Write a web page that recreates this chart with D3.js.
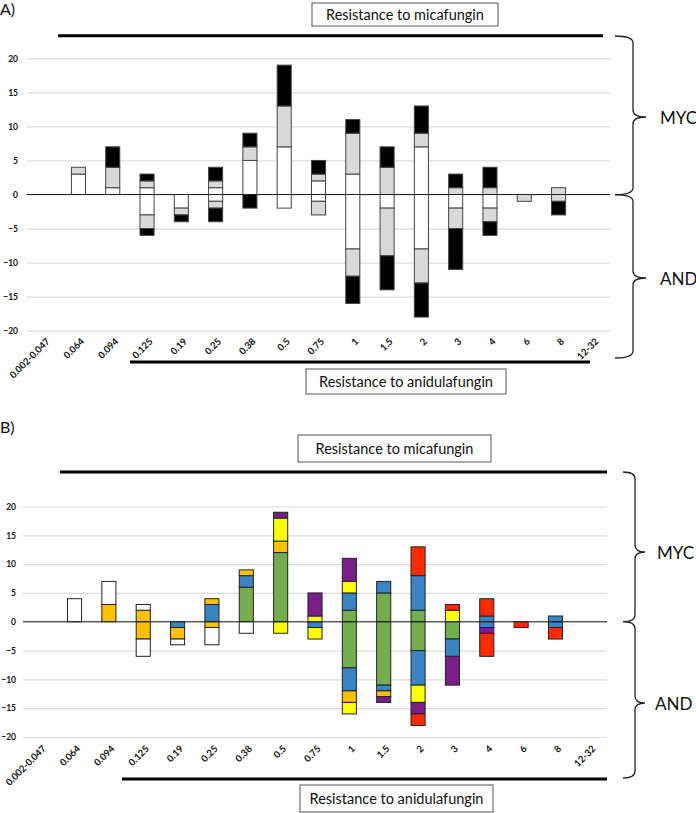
<!DOCTYPE html>
<html>
<head>
<meta charset="utf-8">
<script src="https://cdn.jsdelivr.net/npm/d3@7"></script>
<style>
  body { margin: 0; background: #fff; }
  svg { display: block; font-family: Lato, "Open Sans", sans-serif; }
</style>
</head>
<body>
<svg id="chart" width="696" height="813"></svg>
<script>
const categories = ["0.002-0.047", "0.064", "0.094", "0.125", "0.19", "0.25", "0.38", "0.5", "0.75", "1", "1.5", "2", "3", "4", "6", "8", "12-32"];
const yTicks = [-20, -15, -10, -5, 0, 5, 10, 15, 20];

// panel A: white / grey / black, MYC above zero, AND below
const aKeys = ["white", "grey", "black"];
const aMycWhite = [0, 3, 1, 1, 0, 1, 5, 7, 2, 3, 0, 7, 0, 0, 0, 0, 0];
const aMycGrey  = [0, 1, 3, 1, 0, 1, 2, 6, 1, 6, 4, 2, 1, 1, 0, 1, 0];
const aMycBlack = [0, 0, 3, 1, 0, 2, 2, 6, 2, 2, 3, 4, 2, 3, 0, 0, 0];
const aAndWhite = [0, 0, 0, 3, 2, 1, 0, 2, 1, 8, 2, 8, 2, 2, 0, 0, 0];
const aAndGrey  = [0, 0, 0, 2, 1, 1, 0, 0, 2, 4, 7, 5, 3, 2, 1, 1, 0];
const aAndBlack = [0, 0, 0, 1, 1, 2, 2, 0, 0, 4, 5, 5, 6, 2, 0, 2, 0];

// panel B: coloured groups
const bKeys = ["green", "blue", "orange", "yellow", "purple", "red", "white"];
const bMycGreen  = [0, 0, 0, 0, 0, 0, 6, 12, 0, 2, 5, 2, 0, 0, 0, 0, 0];
const bMycBlue   = [0, 0, 0, 0, 0, 3, 2, 0, 0, 3, 2, 6, 0, 1, 0, 1, 0];
const bMycOrange = [0, 0, 3, 2, 0, 1, 1, 2, 0, 0, 0, 0, 0, 0, 0, 0, 0];
const bMycYellow = [0, 0, 0, 0, 0, 0, 0, 4, 1, 2, 0, 0, 2, 0, 0, 0, 0];
const bMycPurple = [0, 0, 0, 0, 0, 0, 0, 1, 4, 4, 0, 0, 0, 0, 0, 0, 0];
const bMycRed    = [0, 0, 0, 0, 0, 0, 0, 0, 0, 0, 0, 5, 1, 3, 0, 0, 0];
const bMycWhite  = [0, 4, 4, 1, 0, 0, 0, 0, 0, 0, 0, 0, 0, 0, 0, 0, 0];
const bAndGreen  = [0, 0, 0, 0, 0, 0, 0, 0, 0, 8, 11, 5, 3, 0, 0, 0, 0];
const bAndBlue   = [0, 0, 0, 0, 1, 0, 0, 0, 1, 4, 1, 6, 3, 1, 0, 1, 0];
const bAndOrange = [0, 0, 0, 3, 2, 1, 0, 0, 0, 2, 1, 0, 0, 0, 0, 0, 0];
const bAndYellow = [0, 0, 0, 0, 0, 0, 0, 2, 2, 2, 0, 3, 0, 0, 0, 0, 0];
const bAndPurple = [0, 0, 0, 0, 0, 0, 0, 0, 0, 0, 1, 2, 5, 1, 0, 0, 0];
const bAndRed    = [0, 0, 0, 0, 0, 0, 0, 0, 0, 0, 0, 2, 0, 4, 1, 2, 0];
const bAndWhite  = [0, 0, 0, 3, 1, 3, 2, 0, 0, 0, 0, 0, 0, 0, 0, 0, 0];

const colorsA = { white: "#ffffff", grey: "#d9d9d9", black: "#000000" };
const colorsB = { green: "#74ae4f", blue: "#3a84c4", orange: "#ffc000", yellow: "#ffff00",
                  purple: "#7a1f8a", red: "#ff2a00", white: "#ffffff" };

function buildRows(keys, myc, and) {
    return categories.map((c, i) => {
        const row = { cat: c };
        keys.forEach((k, j) => {
            row["m_" + k] = myc[j][i];
            row["a_" + k] = -and[j][i];
        });
        return row;
    });
}

const svg = d3.select("#chart");

function drawPanel(p) {
    const g = svg.append("g");

    const x = d3.scaleBand()
        .domain(categories)
        .range([p.x0, p.x1])
        .paddingInner(0.59)
        .paddingOuter(0.295);

    const y = d3.scaleLinear()
        .domain([-20, 20])
        .range([p.yBottom, p.yTop]);

    // gridlines
    g.append("g")
        .attr("transform", `translate(${p.x0}, 0)`)
        .call(d3.axisLeft(y).tickValues(yTicks).tickSize(-(p.x1 - p.x0)).tickFormat(""))
        .call(a => a.select(".domain").remove())
        .call(a => a.selectAll("line").attr("stroke", "#dcdcdc").attr("stroke-width", 1.2));

    g.append("g")
        .attr("transform", `translate(${p.labelX}, 0)`)
        .call(d3.axisLeft(y).tickValues(yTicks).tickSize(0).tickPadding(0))
        .call(a => a.select(".domain").remove())
        .call(a => a.selectAll("text")
            .attr("font-family", "Lato, sans-serif")
            .attr("font-weight", "bold")
            .attr("font-size", "8.5px")
            .attr("fill", "#111"));

    const rows = buildRows(p.keys, p.myc, p.and);
    const stackKeys = p.keys.map(k => "m_" + k).concat(p.keys.map(k => "a_" + k));
    const series = d3.stack()
        .keys(stackKeys)
        .offset(d3.stackOffsetDiverging)(rows);

    g.selectAll(".layer")
        .data(series)
        .join("g")
        .attr("fill", d => p.colors[d.key.slice(2)])
        .selectAll("rect")
        .data(d => d.filter(v => v[1] - v[0] !== 0))
        .join("rect")
        .attr("x", d => x(d.data.cat))
        .attr("width", x.bandwidth())
        .attr("y", d => y(Math.max(d[0], d[1])))
        .attr("height", d => Math.abs(y(d[0]) - y(d[1])))
        .attr("stroke", p.stroke)
        .attr("stroke-width", 1);

    // zero line
    g.append("line")
        .attr("x1", p.x0).attr("x2", p.x1)
        .attr("y1", y(0)).attr("y2", y(0))
        .attr("stroke", "#222")
        .attr("stroke-width", 1);

    // rotated category labels
    const xa = g.append("g")
        .attr("transform", `translate(4, ${p.yBottom + p.catOffset})`)
        .call(d3.axisBottom(x).tickSize(0).tickPadding(0));
    xa.select(".domain").remove();
    xa.selectAll("text")
        .attr("y", 0)
        .attr("dy", "0.35em")
        .attr("transform", "rotate(-45)")
        .style("text-anchor", "end")
        .attr("font-family", "Lato, sans-serif")
        .attr("font-weight", "bold")
        .attr("font-size", "9.5px")
        .attr("fill", "#111");

    // thick resistance lines
    p.bars.forEach(b => {
        g.append("line")
            .attr("x1", b[0]).attr("x2", b[1])
            .attr("y1", b[2]).attr("y2", b[2])
            .attr("stroke", "#000")
            .attr("stroke-width", 3);
    });

    // boxes
    p.boxes.forEach(b => {
        g.append("rect")
            .attr("x", b.x).attr("y", b.y)
            .attr("width", b.w).attr("height", b.h)
            .attr("fill", "#fff")
            .attr("stroke", "#555")
            .attr("stroke-width", 1);
        g.append("text")
            .attr("x", b.x + b.w / 2)
            .attr("y", b.y + b.h / 2)
            .attr("text-anchor", "middle")
            .attr("dominant-baseline", "central")
            .attr("font-size", "14.5px")
            .attr("fill", "#111")
            .text(b.text);
    });

    // braces
    p.braces.forEach(b => {
        const r = 7;
        const xa0 = b.x0, xa1 = b.x1, xt = b.xt;
        const path = `M${xa0},${b.top} Q${xa1},${b.top} ${xa1},${b.top + r} ` +
            `L${xa1},${b.mid - r} Q${xa1},${b.mid} ${xt},${b.mid} ` +
            `Q${xa1},${b.mid} ${xa1},${b.mid + r} L${xa1},${b.bot - r} ` +
            `Q${xa1},${b.bot} ${xa0},${b.bot}`;
        g.append("path")
            .attr("d", path)
            .attr("fill", "none")
            .attr("stroke", "#222")
            .attr("stroke-width", 1.3);
        g.append("text")
            .attr("x", b.tx)
            .attr("y", b.mid)
            .attr("dominant-baseline", "central")
            .attr("font-size", "17px")
            .attr("fill", "#111")
            .text(b.label);
    });

    g.append("text")
        .attr("x", 0)
        .attr("y", p.titleY)
        .attr("font-size", "16px")
        .attr("fill", "#111")
        .text(p.title);
}

drawPanel({
    title: "A)", titleY: 15,
    keys: aKeys, colors: colorsA, stroke: "#444",
    myc: [aMycWhite, aMycGrey, aMycBlack],
    and: [aAndWhite, aAndGrey, aAndBlack],
    x0: 27, x1: 610, yTop: 58.3, yBottom: 330.7, labelX: 18, catOffset: 9,
    bars: [[58, 603, 35.7], [130, 590, 362]],
    boxes: [
        { x: 312, y: 3, w: 186, h: 23, text: "Resistance to micafungin" },
        { x: 306, y: 369, w: 200, h: 25, text: "Resistance to anidulafungin" }
    ],
    braces: [
        { x0: 615, x1: 633, xt: 646, top: 36, mid: 117, bot: 194.7, tx: 660, label: "MYC" },
        { x0: 615, x1: 633, xt: 646, top: 194.7, mid: 278, bot: 358, tx: 660, label: "AND" }
    ]
});

drawPanel({
    title: "B)", titleY: 433,
    keys: bKeys, colors: colorsB, stroke: "#222",
    myc: [bMycGreen, bMycBlue, bMycOrange, bMycYellow, bMycPurple, bMycRed, bMycWhite],
    and: [bAndGreen, bAndBlue, bAndOrange, bAndYellow, bAndPurple, bAndRed, bAndWhite],
    x0: 23, x1: 607, yTop: 506.5, yBottom: 737, labelX: 16, catOffset: 10,
    bars: [[60, 607, 472], [122, 607, 779]],
    boxes: [
        { x: 298, y: 435, w: 193, h: 27, text: "Resistance to micafungin" },
        { x: 300, y: 785, w: 193, h: 27, text: "Resistance to anidulafungin" }
    ],
    braces: [
        { x0: 623, x1: 635, xt: 645, top: 472, mid: 552, bot: 621.7, tx: 657, label: "MYC" },
        { x0: 623, x1: 635, xt: 645, top: 621.7, mid: 703, bot: 778, tx: 655, label: "AND" }
    ]
});
</script>
</body>
</html>
